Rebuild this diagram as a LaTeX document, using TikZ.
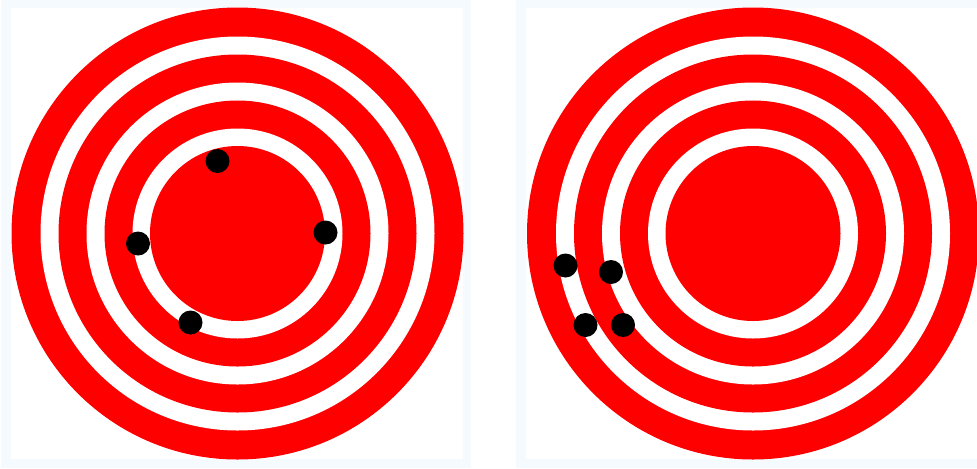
\documentclass[tikz,border=0pt]{standalone}
\usepackage{xcolor}
\usepackage{tikz}
\definecolor{marco}{RGB}{245,250,255}
\tikzset{
  panel/.style={fill=marco},
  fondo/.style={fill=white},
  impacto/.style={fill=black}
}
\begin{document}
\begin{tikzpicture}[x=0.02cm,y=-0.02cm]
\useasboundingbox (0,0) rectangle (977,468);
\clip (0,0) rectangle (977,468);
% marcos
\fill[panel] (1,0) rectangle (471,468); \fill[fondo] (11,8) rectangle (463,459);
\fill[panel] (516,0) rectangle (977,468); \fill[fondo] (526,8) rectangle (977,459);
% dianas
\foreach \cx in {237.5,753}{
  \foreach \r/\c in {226/red,197/white,179/red,151/white,133/red,105/white,87.5/red}{
    \fill[\c] (\cx,233.5) circle (\r);}
}
% impactos
\foreach \px/\py in {217.5/161,138/243.5,325.5/232.5,190.5/322.5}{\fill[impacto] (\px,\py) circle (12);}
\foreach \px/\py in {565.5/265.5,611/272,585.5/325,623/325}{\fill[impacto] (\px,\py) circle (12);}
\end{tikzpicture}
\end{document}
